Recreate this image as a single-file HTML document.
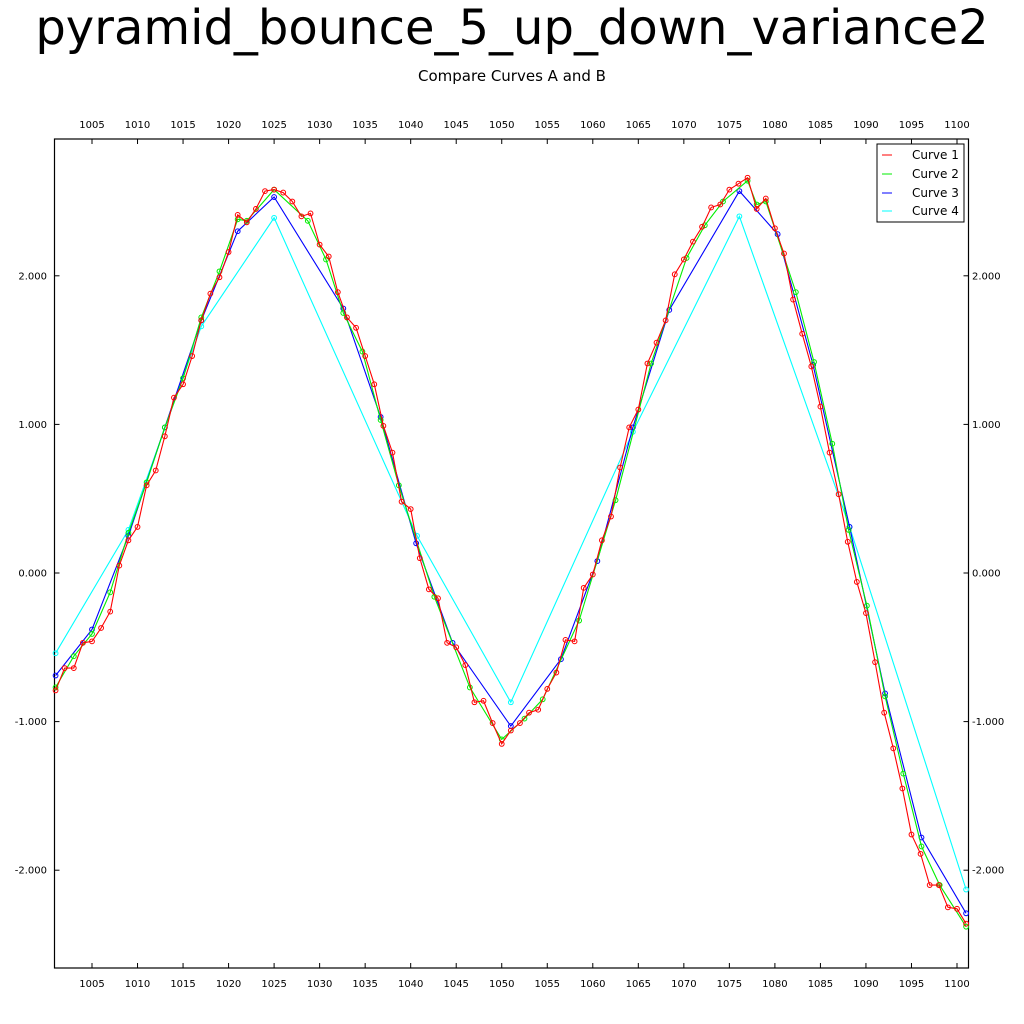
<!DOCTYPE html>
<html><head><meta charset="utf-8"><style>
body{margin:0;background:#fff;}
svg{display:block;font-family:"DejaVu Sans","Liberation Sans",sans-serif;}
</style></head><body>
<svg id="chart" width="1024" height="1024" viewBox="0 0 1024 1024" xmlns="http://www.w3.org/2000/svg">
<rect width="1024" height="1024" fill="#fff"/>
<text x="512" y="44" font-size="48" text-anchor="middle" fill="#000">pyramid_bounce_5_up_down_variance2</text>
<text x="512" y="81" font-size="15" text-anchor="middle" fill="#000">Compare Curves A and B</text>
<g id="axes"></g>
<g id="series"></g>
<g>
<rect x="877" y="144" width="87" height="78" fill="#fff" stroke="#000" stroke-width="1"/>
<line x1="882" y1="155" x2="892" y2="155" stroke="#ff0000"/><text x="912" y="159" font-size="12">Curve 1</text>
<line x1="882" y1="174" x2="892" y2="174" stroke="#00ee00"/><text x="912" y="178" font-size="12">Curve 2</text>
<line x1="882" y1="193" x2="892" y2="193" stroke="#0000ff"/><text x="912" y="197" font-size="12">Curve 3</text>
<line x1="882" y1="211" x2="892" y2="211" stroke="#00ffff"/><text x="912" y="215" font-size="12">Curve 4</text>
</g>
</svg>
<script>
const xTicks=[1005,1010,1015,1020,1025,1030,1035,1040,1045,1050,1055,1060,1065,1070,1075,1080,1085,1090,1095,1100];
const yTicks=[-2,-1,0,1,2];
const yTickLabels=["-2.000","-1.000","0.000","1.000","2.000"];
const c1y=[-0.79,-0.64,-0.64,-0.47,-0.46,-0.37,-0.26,0.05,0.22,0.31,0.59,0.69,0.92,1.18,1.27,1.46,1.70,1.88,1.99,2.16,2.41,2.36,2.45,2.57,2.58,2.56,2.50,2.40,2.42,2.21,2.13,1.89,1.72,1.65,1.46,1.27,0.99,0.81,0.48,0.43,0.10,-0.11,-0.17,-0.47,-0.50,-0.62,-0.87,-0.86,-1.01,-1.15,-1.06,-1.01,-0.94,-0.92,-0.78,-0.67,-0.45,-0.46,-0.10,-0.01,0.22,0.38,0.71,0.98,1.10,1.41,1.55,1.70,2.01,2.11,2.23,2.33,2.46,2.48,2.58,2.62,2.66,2.45,2.52,2.32,2.15,1.84,1.61,1.39,1.12,0.81,0.53,0.21,-0.06,-0.27,-0.60,-0.94,-1.18,-1.45,-1.76,-1.89,-2.10,-2.10,-2.25,-2.26,-2.36];
const c1x=c1y.map((_,i)=>1001+i);
const c2x=[1001,1003,1005,1007,1009,1011,1013,1015,1017,1019,1021,1022,1025,1028.7,1030.7,1032.6,1034.7,1036.7,1038.7,1042.6,1046.5,1050,1052.5,1054.5,1058.5,1062.5,1066.4,1070.3,1072.3,1074.3,1077,1078,1079,1082.3,1084.3,1086.3,1088.1,1090.1,1092.1,1094.1,1096.1,1098.1,1101];
const c2y=[-0.77,-0.56,-0.41,-0.13,0.27,0.61,0.98,1.31,1.72,2.03,2.38,2.37,2.58,2.37,2.11,1.75,1.49,1.03,0.59,-0.16,-0.77,-1.12,-0.98,-0.85,-0.32,0.49,1.41,2.12,2.34,2.50,2.64,2.48,2.50,1.89,1.42,0.87,0.29,-0.22,-0.83,-1.35,-1.84,-2.10,-2.38];
const c3x=[1001,1005,1009,1013,1017,1021,1025,1032.6,1036.7,1040.6,1044.6,1051,1056.5,1060.5,1064.4,1068.4,1076.1,1080.3,1084.2,1088.2,1092.1,1096.1,1101];
const c3y=[-0.69,-0.38,0.25,0.98,1.70,2.30,2.53,1.78,1.05,0.20,-0.47,-1.03,-0.58,0.08,0.98,1.77,2.57,2.28,1.40,0.31,-0.81,-1.78,-2.29];
const c4x=[1001,1009,1017,1025,1040.7,1051,1064.4,1076.1,1088.2,1101];
const c4y=[-0.54,0.29,1.66,2.39,0.25,-0.87,0.95,2.40,0.31,-2.13];

const NS="http://www.w3.org/2000/svg";
const L=54.5,R=968.5,T=139,B=968;
function xs(v){return 92+(v-1005)*(957-92)/95;}
function ys(v){return 573-v*148.6;}
function mk(tag,attrs,parent){const e=document.createElementNS(NS,tag);for(const k in attrs)e.setAttribute(k,attrs[k]);parent.appendChild(e);return e;}
const axes=document.getElementById('axes');
const frame=mk('rect',{x:L,y:T,width:R-L,height:B-T,fill:'none',stroke:'#000','stroke-width':1.2},axes);


xTicks.forEach(t=>{
  const x=xs(t);
  mk('line',{x1:x,y1:T,x2:x,y2:T+5,stroke:'#000'},axes);
  mk('line',{x1:x,y1:B,x2:x,y2:B-5,stroke:'#000'},axes);
  const a=mk('text',{x:x,y:128,'font-size':10,'text-anchor':'middle'},axes);a.textContent=t;
  
  
  const b=mk('text',{x:x,y:987,'font-size':10,'text-anchor':'middle'},axes);b.textContent=t;
  
  
});
yTicks.forEach((t,i)=>{
  const y=ys(t);
  mk('line',{x1:L,y1:y,x2:L+5,y2:y,stroke:'#000'},axes);
  mk('line',{x1:R,y1:y,x2:R-5,y2:y,stroke:'#000'},axes);
  const a=mk('text',{x:47,y:y+3.5,'font-size':10,'text-anchor':'end'},axes);a.textContent=yTickLabels[i];
  
  
  const b=mk('text',{x:972,y:y+3.5,'font-size':10,'text-anchor':'start'},axes);b.textContent=yTickLabels[i];
  
  
});
const series=document.getElementById('series');
function draw(xv,yv,color,name){
  const g=mk('g',{},series);
  
  
  const pts=xv.map((x,i)=>xs(x).toFixed(1)+','+ys(yv[i]).toFixed(1)).join(' ');
  const pl=mk('polyline',{points:pts,fill:'none',stroke:color,'stroke-width':1.1},g);
  
  
  xv.forEach((x,i)=>{
    const c=mk('circle',{cx:xs(x),cy:ys(yv[i]),r:2.4,fill:'none',stroke:color,'stroke-width':1},g);
    
    
  });
}
draw(c4x,c4y,'#00ffff','curve-4');
draw(c3x,c3y,'#0000ff','curve-3');
draw(c2x,c2y,'#00ee00','curve-2');
draw(c1x,c1y,'#ff0000','curve-1');
</script>
</body></html>
